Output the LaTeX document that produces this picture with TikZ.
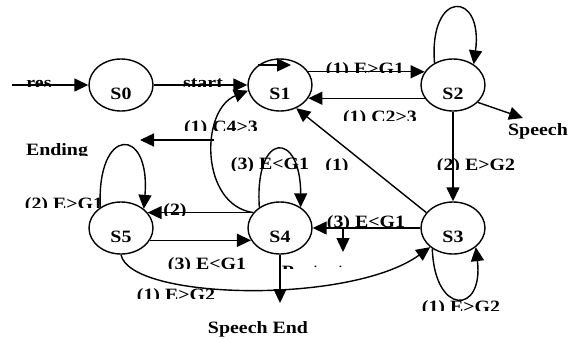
\documentclass[tikz,border=0pt]{standalone}
\usepackage{fontspec}
\setmainfont{Liberation Serif}[FakeStretch=1.15]
\usetikzlibrary{arrows.meta,calc,shapes.geometric}
\tikzset{
  st/.style={ellipse, draw, line width=1.4pt, minimum width=64pt, minimum height=52pt, inner sep=0pt},
  arr/.style={line width=1.4pt, -{Triangle[length=14pt,width=13pt]}},
  ln/.style={line width=1.4pt},
  lbl/.style={font=\bfseries\fontsize{17.3}{18}\selectfont, inner sep=0pt, anchor=base},
}
\newcommand{\clbl}[5]{%
  \begin{scope}\clip (#2-80,#3-30) rectangle (#2+80,#4);
  \node[lbl] (#1) at (#2,#3) {#5};\end{scope}}
\begin{document}
\begin{tikzpicture}[x=1pt,y=-1pt]
\useasboundingbox (0,0) rectangle (568,338);
% labels (clipped like the reference)
\clbl{lres}{39}{88}{86}{res}
\clbl{lstart}{203}{88}{86}{start}
\clbl{lEG1}{365}{74}{72}{(1) E>G1}
\clbl{lC23}{380}{122}{120}{(1) C2>3}
\clbl{lEG2a}{476}{170}{169}{(2) E>G2}
\clbl{lone}{337}{170}{169}{(1)}
\clbl{lEG1b}{270}{169}{170}{(3) E<G1}
\clbl{lC43}{221}{132}{130}{(1) C4>3}
\clbl{lend}{57}{155}{155}{Ending}
\clbl{lEG1c}{64}{209}{207}{(2) E>G1}
\clbl{ltwo}{175}{215}{215}{(2)}
\clbl{lEG1d}{366}{227}{227}{(3) E<G1}
\clbl{lEG1e}{207}{269}{268}{(3) E<G1}
\clbl{lEG2b}{176}{300}{298}{(1) E>G2}
\clbl{lEG2c}{461}{312}{310}{(1) E>G2}
\clbl{lP}{288}{277}{268}{P}
\node[lbl] (lsp) at (538,135) {Speech};
\node[lbl] (lspe) at (258,333) {Speech End};
\node[anchor=base, inner sep=0pt, font=\bfseries\fontsize{10}{10}\selectfont] (ldots) at (328,267) {.\hspace{22pt}.};
% states
\node[st] (S0) at (121,85) {};
\node[st] (S1) at (280,85) {};
\node[st] (S2) at (453,85) {};
\node[st] (S3) at (453,228) {};
\node[st] (S4) at (280,228) {};
\node[st] (S5) at (121,228) {};
\node[lbl] (t0) at (121,99) {S0};
\node[lbl] (t1) at (280,99) {S1};
\node[lbl] (t2) at (453,99) {S2};
\node[lbl] (t3) at (453,242) {S3};
\node[lbl] (t4) at (280,242) {S4};
\node[lbl] (t5) at (121,242) {S5};
% free ends
\coordinate (resin) at (12,85);
\coordinate (s1a) at (258,65);
\coordinate (s1b) at (291,65);
\coordinate (spc) at (523,118);
\coordinate (pa) at (343,228);
\coordinate (pb) at (343,252);
\coordinate (c4s) at (214,140);
\coordinate (c4e) at (140,140);
\coordinate (sec) at (280,303);
% connectors
\draw[arr] (resin) -- (S0.west);
\draw[arr] (S0.east) -- (S1.west);
\draw[arr] (s1a) -- (s1b);
\draw[arr] (S1.25) -- (S2.155);
\draw[arr] (S2.205) -- (S1.-25);
\draw[arr] (S2.130) .. controls +(-6,-74) and +(10,-74) .. (S2.45);
\draw[arr] (S2.-35) -- (spc);
\draw[arr] (S2.south) -- (S3.north);
\draw[arr] (S3.150) -- (S1.-55);
\draw[arr] (S3.west) -- (S4.east);
\draw[arr] (pa) -- (pb);
\draw[arr] (S3.-135) .. controls +(2,67) and +(8,68) .. (S3.-40);
\draw[arr] (S4.135) .. controls +(-5,-77) and +(0,-77) .. (S4.45);
\draw[arr] (S4.150) -- (S5.30);
\draw[arr] (S4.150) .. controls (200,205) and (200,110) .. (S1.190);
\draw[arr] (c4s) -- (c4e);
\draw[arr] (S5.135) .. controls +(-4,-82) and +(7,-83) .. (S5.40);
\draw[arr] (S5.-23) -- (S4.203);
\draw[arr] (S5.south) .. controls (130,300) and (350,305) .. (S3.-140);
\draw[arr] (S4.south) -- (sec);
\end{tikzpicture}
\end{document}
